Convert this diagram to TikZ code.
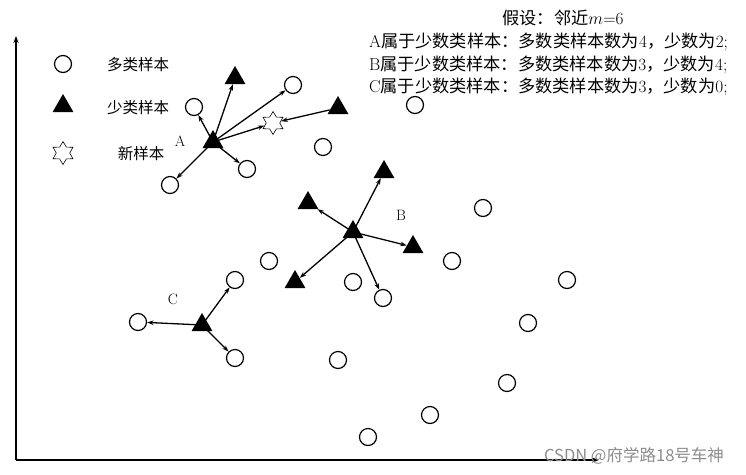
\documentclass[tikz,border=0pt]{standalone}
\usepackage{fontspec}
\usetikzlibrary{shapes.geometric,arrows.meta}
\newfontfamily\cjk{Noto Sans CJK SC}
\begin{document}
\begin{tikzpicture}[x=1pt,y=-1pt,
  maj/.style={circle,draw,line width=1.2pt,minimum size=17pt,inner sep=0pt},
  mino/.style={regular polygon,regular polygon sides=3,fill=black,minimum size=24pt,inner sep=0pt},
  newstar/.style={star,star points=6,star point ratio=1.7,draw,line width=0.6pt,fill=white,minimum size=23pt,inner sep=0pt},
  arr/.style={-{Stealth[length=6.5pt,width=4.5pt]},line width=1.3pt},
  axis/.style={-{Stealth[length=7pt,width=5pt]},line width=1.4pt},
  lbl/.style={font=\fontsize{15}{17}\selectfont},
  leg/.style={font=\fontsize{15.5}{18}\selectfont\cjk,anchor=center},
  info/.style={font=\fontsize{17.2}{20}\selectfont,anchor=west,inner sep=0pt}]
\useasboundingbox (0,0) rectangle (746,474);
% axes
\coordinate (O) at (16,460);
\coordinate (Y) at (16,36);
\coordinate (X) at (599,460);
\draw[axis] (O) -- (Y);
\draw[axis] (O) -- (X);
% legend
\node[maj] (lc) at (63,64) {};
\node[mino] (lt) at (63,106) {};
\node[newstar] (ls) at (63,153) {};
\node[leg] (lct) at (138,65) {多类样本};
\node[leg] (ltt) at (138,108) {少类样本};
\node[leg] (lst) at (141,154) {新样本};
% info text
\node[info,anchor=center] (i1) at (563,18) {{\cjk 假设：邻近}$m$=6};
\node[info] (i2) at (369,42) {A{\cjk 属于少数类样本：多数类样本数为}4{\cjk ，少数为}2;};
\node[info] (i3) at (369,65) {B{\cjk 属于少数类样本：多数类样本数为}3{\cjk ，少数为}4;};
\node[info] (i4) at (369,87) {C{\cjk 属于少数类样本：多数类样本数为}3{\cjk ，少数为}0;};
% majority samples
\node[maj] (c1) at (194,107) {};
\node[maj] (c2) at (293,85) {};
\node[maj] (c3) at (247,169) {};
\node[maj] (c4) at (170,185) {};
\node[maj] (c5) at (323,147) {};
\node[maj] (c6) at (415,105) {};
\node[maj] (c7) at (483,208) {};
\node[maj] (c8) at (452,261) {};
\node[maj] (c9) at (567,280) {};
\node[maj] (c10) at (528,323) {};
\node[maj] (c11) at (507,383) {};
\node[maj] (c12) at (430,415) {};
\node[maj] (c13) at (368,437) {};
\node[maj] (c14) at (338,360) {};
\node[maj] (c15) at (353,282) {};
\node[maj] (c16) at (383,298) {};
\node[maj] (c17) at (269,261) {};
\node[maj] (c18) at (235,280) {};
\node[maj] (c19) at (138,322) {};
\node[maj] (c20) at (235,358) {};
% minority samples
\node[mino] (A) at (213,142) {};
\node[mino] (t1) at (235,78) {};
\node[mino] (t2) at (338,108) {};
\node[mino] (B) at (353,232) {};
\node[mino] (t3) at (384,172) {};
\node[mino] (t4) at (308,203) {};
\node[mino] (t5) at (413,247) {};
\node[mino] (t6) at (295,282) {};
\node[mino] (C) at (202,325) {};
% new sample
\node[newstar] (s) at (273,123) {};
% labels
\node[lbl] (la) at (180,141) {A};
\node[lbl] (lb) at (401,215) {B};
\node[lbl] (lcc) at (173,299) {C};
% connectors A
\draw[arr] (A.center) -- (c1);
\draw[arr] (A.center) -- (t1);
\draw[arr] (A.center) -- (c2);
\draw[arr] (A.center) -- (s);
\draw[arr] (A.center) -- (c3);
\draw[arr] (A.center) -- (c4);
\draw[arr] (t2) -- (s);
% connectors B
\draw[arr] (B.center) -- (t3);
\draw[arr] (B.center) -- (t4);
\draw[arr] (B.center) -- (t5);
\draw[arr] (B.center) -- (t6);
\draw[arr] (B.center) -- (c16);
% connectors C
\draw[arr] (C.center) -- (c18);
\draw[arr] (C.center) -- (c19);
\draw[arr] (C.center) -- (c20);
% watermark
\node[font=\fontsize{16.5}{19}\selectfont\cjk,text=black!45] (wm) at (634,456) {CSDN @府学路18号车神};
\end{tikzpicture}
\end{document}
